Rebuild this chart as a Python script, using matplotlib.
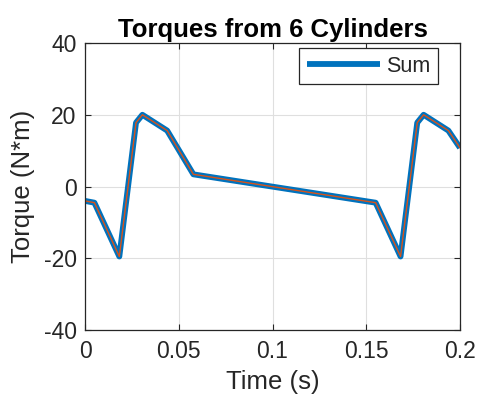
import numpy as np
import matplotlib
matplotlib.use("Agg")
import matplotlib.pyplot as plt

# time points (s) and summed torque (N*m)
time_s = [0.0, 0.005, 0.0183, 0.0272, 0.0306, 0.0438, 0.0578,
          0.155, 0.1683, 0.1772, 0.1806, 0.1938, 0.2]
torque_sum = [-4.0, -4.5, -19.5, 17.8, 20.0, 15.6, 3.4,
              -4.5, -19.5, 17.8, 20.0, 15.6, 10.8]

xticks = [0, 0.05, 0.1, 0.15, 0.2]
xticklabels = ["0", "0.05", "0.1", "0.15", "0.2"]
yticks = [-40, -20, 0, 20, 40]

plt.rcParams["font.family"] = ["Liberation Sans", "DejaVu Sans"]
plt.rcParams["axes.unicode_minus"] = False
txt = "#262626"

fig = plt.figure(figsize=(4.79, 4.08), dpi=100)
ax = fig.add_axes([0.1775, 0.191, 0.7828, 0.7036])

ax.plot(time_s, torque_sum, color="#0072BD", lw=4.2, label="Sum",
        solid_joinstyle="round", solid_capstyle="butt")
ax.plot(time_s, torque_sum, color="#D95319", lw=1.0)

ax.set_xlim(0, 0.2)
ax.set_ylim(-40, 40)
ax.set_xticks(xticks)
ax.set_xticklabels(xticklabels)
ax.set_yticks(yticks)
ax.grid(True, color="#DFDFDF", lw=0.8)
ax.set_axisbelow(True)

ax.tick_params(direction="in", top=True, right=True, colors=txt,
               labelsize=16.5, length=4, width=0.8)
ax.tick_params(axis="x", pad=7)
ax.tick_params(axis="y", pad=6)
for s in ax.spines.values():
    s.set_color(txt)
    s.set_linewidth(0.9)

ax.set_title("Torques from 6 Cylinders", fontsize=18.5, fontweight="bold",
             color="black", pad=4)
ax.set_xlabel("Time (s)", fontsize=18.5, color=txt, labelpad=5)
ax.set_ylabel("Torque (N*m)", fontsize=18.5, color=txt, labelpad=6)

leg = ax.legend(loc="upper right", fontsize=15.5, frameon=True, fancybox=False,
                handlelength=3.4, borderpad=0.35, handletextpad=0.3,
                bbox_to_anchor=(0.97, 1.02))
leg.get_frame().set_edgecolor(txt)
leg.get_frame().set_linewidth(0.9)
leg.get_frame().set_alpha(1)
for t in leg.get_texts():
    t.set_color(txt)

fig.savefig("out.png", dpi=100)
